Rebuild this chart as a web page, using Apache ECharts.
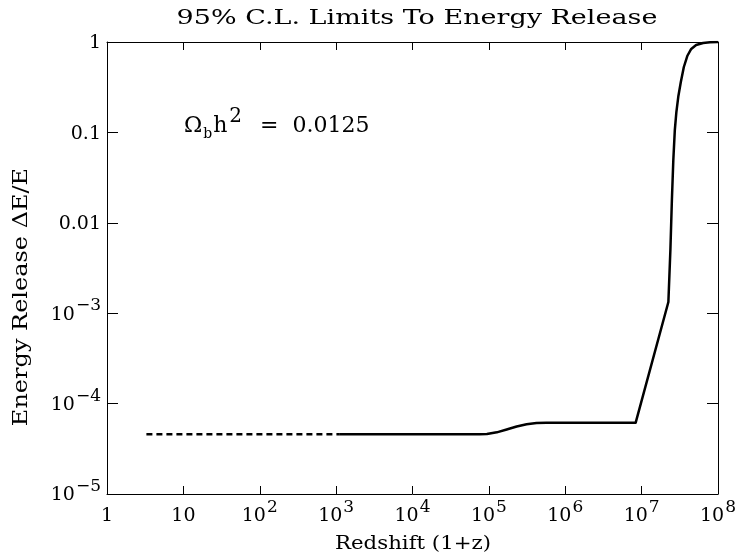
<!DOCTYPE html>
<html>
<head>
<meta charset="utf-8">
<script src="https://cdn.jsdelivr.net/npm/echarts@6/dist/echarts.min.js"></script>
<style>html,body{margin:0;padding:0;background:#fff}#c{width:739px;height:556px}</style>
</head>
<body>
<div id="c"></div>
<script>
// Tick labels (exponents of 10)
var xTickExp = [0, 1, 2, 3, 4, 5, 6, 7, 8];
var yTickExp = [-5, -4, -3, -2, -1, 0];

// Dashed part of the limit curve (redshift 1+z, dE/E)
var dashedX = [3.28, 1120];
var dashedY = [4.57e-5, 4.57e-5];

// Solid part of the limit curve
var solidX = [1120, 7.6e4, 9.42e4, 1.27e5, 1.71e5, 2.31e5, 3.12e5, 4.2e5, 5.66e5, 8.36e6,
  2.24e7, 2.38e7, 2.49e7, 2.60e7, 2.72e7, 2.85e7, 3.03e7, 3.26e7, 3.57e7, 3.96e7, 4.46e7, 5.17e7, 6.38e7, 7.87e7, 1e8];
var solidY = [4.57e-5, 4.57e-5, 4.61e-5, 4.81e-5, 5.17e-5, 5.58e-5, 5.90e-5, 6.10e-5, 6.15e-5, 6.15e-5,
  1.33e-3, 5.0e-3, 0.0179, 0.0495, 0.106, 0.168, 0.253, 0.361, 0.529, 0.700, 0.837, 0.927, 0.975, 0.993, 1.0];

// Texts
var titleText = '95% C.L. Limits To Energy Release';
var xName = 'Redshift (1+z)';
var yName = 'Energy Release \u0394E/E';

function pairs(xs, ys) { return xs.map(function (x, i) { return [x, ys[i]]; }); }

var FONT = 'DejaVu Serif';
function expLabel(e) {
  if (e === 0) return '{b|1}';
  if (e === 1) return '{b|10}';
  if (e === -1) return '{b|0.1}';
  if (e === -2) return '{b|0.01}';
  return '{b|10}{s|' + (e < 0 ? '\u2212' + (-e) : e) + '}';
}
var rich = {
  b: { fontFamily: FONT, fontSize: 19, color: '#000', lineHeight: 22, verticalAlign: 'bottom' },
  s: { fontFamily: FONT, fontSize: 17, color: '#000', lineHeight: 22, verticalAlign: 'bottom', padding: [0, 0, 10, 1] }
};

var chart = echarts.init(document.getElementById('c'));
var axisLine = { show: true, lineStyle: { color: '#000', width: 1 } };
chart.setOption({
  animation: false,
  backgroundColor: '#fff',
  grid: { left: 107, right: 16, top: 42, bottom: 62 },
  xAxis: [{
    type: 'log', logBase: 10, min: 1, max: 1e8, position: 'bottom',
    axisLine: axisLine, splitLine: { show: false }, minorTick: { show: false },
    axisTick: { show: true, inside: true, length: 8, lineStyle: { color: '#000' } },
    axisLabel: {
      margin: 10, formatter: function (v) { return expLabel(Math.round(Math.log10(v))); }, rich: rich,
      showMinLabel: true, showMaxLabel: true
    }
  }, {
    type: 'log', logBase: 10, min: 1, max: 1e8, position: 'top',
    axisLine: axisLine, splitLine: { show: false },
    axisTick: { show: true, inside: true, length: 8, lineStyle: { color: '#000' } },
    axisLabel: { show: false }
  }],
  yAxis: [{
    type: 'log', logBase: 10, min: 1e-5, max: 1, position: 'left',
    axisLine: axisLine, splitLine: { show: false }, minorTick: { show: false },
    axisTick: { show: true, inside: true, length: 11, lineStyle: { color: '#000' } },
    axisLabel: {
      margin: 6, formatter: function (v) { return expLabel(Math.round(Math.log10(v))); }, rich: rich,
      showMinLabel: true, showMaxLabel: true
    }
  }, {
    type: 'log', logBase: 10, min: 1e-5, max: 1, position: 'right',
    axisLine: axisLine, splitLine: { show: false },
    axisTick: { show: true, inside: true, length: 11, lineStyle: { color: '#000' } },
    axisLabel: { show: false }
  }],
  graphic: [{
    type: 'text', x: 417, y: 19, scaleX: 1.35,
    style: { text: titleText, x: 0, y: 0, align: 'center', verticalAlign: 'middle',
      fontFamily: FONT, fontSize: 20, fill: '#000' }
  }, {
    type: 'text', x: 413, y: 544, scaleX: 1.12,
    style: { text: xName, x: 0, y: 0, align: 'center', verticalAlign: 'middle',
      fontFamily: FONT, fontSize: 19, fill: '#000' }
  }, {
    type: 'text', x: 22, y: 297, rotation: Math.PI / 2, scaleX: 1.2,
    style: { text: yName, x: 0, y: 0, align: 'center', verticalAlign: 'middle',
      fontFamily: FONT, fontSize: 20, fill: '#000' }
  }, {
    type: 'text', x: 184, y: 108,
    style: {
      text: '{o|\u03A9}{sub|b}{o|h}{sup|2}{o|  =  0.0125}',
      rich: {
        o: { fontFamily: FONT, fontSize: 22, fill: '#000', lineHeight: 34, verticalAlign: 'bottom', padding: [0, 0, 5, 0] },
        sub: { fontFamily: FONT, fontSize: 14, fill: '#000', lineHeight: 34, verticalAlign: 'bottom', padding: [0, 1, 1, 1] },
        sup: { fontFamily: FONT, fontSize: 20, fill: '#000', lineHeight: 34, verticalAlign: 'bottom', padding: [0, 4, 15, 2] }
      }
    }
  }],
  series: [{
    type: 'line', xAxisIndex: 0, yAxisIndex: 0, data: pairs(dashedX, dashedY),
    showSymbol: false, symbol: 'none',
    lineStyle: { color: '#000', width: 2.5, type: [6, 4] }
  }, {
    type: 'line', xAxisIndex: 0, yAxisIndex: 0, data: pairs(solidX, solidY),
    showSymbol: false, symbol: 'none', smooth: false,
    lineStyle: { color: '#000', width: 2.5, join: 'round' }
  }]
});
</script>
</body>
</html>
